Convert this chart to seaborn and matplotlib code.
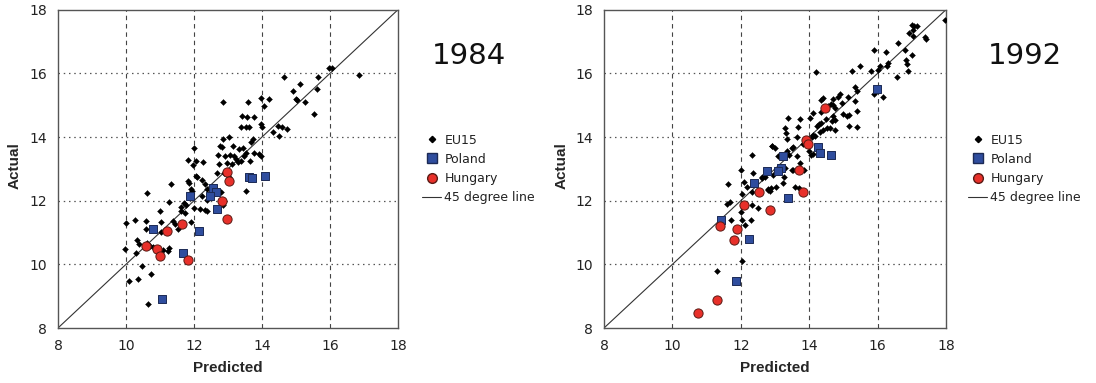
import numpy as np
import pandas as pd
import matplotlib
matplotlib.use("Agg")
import matplotlib.pyplot as plt
import seaborn as sns
from matplotlib.lines import Line2D

# ---------------- data ----------------
eu15_1984_pred = [14.66, 15.12, 14.90, 15.00, 15.04, 15.26, 13.98, 14.21, 12.84, 13.58, 14.06, 13.42, 13.57, 13.76,
                  13.39, 13.53, 13.62, 13.96, 14.00, 14.48, 14.60, 14.75, 14.31, 14.50, 13.73, 13.69, 12.84, 13.02,
                  12.01, 12.77, 12.81, 13.14, 13.32, 13.43, 13.53, 13.48, 13.78, 13.92, 13.65, 13.97, 11.81, 11.96,
                  12.06, 12.27, 12.71, 12.91, 13.06, 13.19, 13.25, 13.37, 12.75, 12.96, 13.11, 13.30, 12.05, 12.09,
                  12.24, 12.33, 12.37, 11.81, 11.85, 11.33, 12.67, 12.88, 13.02, 11.90, 11.95, 13.52, 10.61, 12.25,
                  12.37, 12.79, 12.86, 11.27, 11.72, 11.78, 11.61, 11.63, 11.73, 12.00, 12.18, 12.31, 12.37, 11.01,
                  10.00, 10.27, 10.58, 10.59, 11.03, 11.02, 11.39, 11.53, 11.45, 11.92, 10.32, 10.39, 10.29, 10.63,
                  10.72, 9.96, 10.79, 10.88, 11.10, 11.25, 11.27, 10.48, 10.74, 10.08, 10.36, 10.64, 15.98, 16.06,
                  16.86, 15.66, 15.62, 15.54]
eu15_1984_act = [15.90, 15.66, 15.45, 15.20, 15.15, 15.10, 15.24, 15.21, 15.10, 15.10, 14.98, 14.65, 14.62, 14.62,
                 14.33, 14.30, 14.33, 14.42, 14.33, 14.36, 14.30, 14.25, 14.15, 14.02, 13.94, 13.83, 13.95, 13.99,
                 13.67, 13.73, 13.68, 13.73, 13.62, 13.65, 13.49, 13.39, 13.49, 13.46, 13.26, 13.41, 13.28, 13.13,
                 13.26, 13.21, 13.42, 13.39, 13.44, 13.41, 13.30, 13.25, 13.14, 13.18, 13.16, 13.20, 12.79, 12.73,
                 12.64, 12.51, 12.37, 12.62, 12.56, 12.54, 12.88, 12.86, 12.76, 12.37, 12.29, 12.29, 12.23, 12.15,
                 12.03, 12.27, 11.85, 11.96, 11.94, 11.87, 11.79, 11.67, 11.60, 11.76, 11.74, 11.71, 11.69, 11.69,
                 11.29, 11.38, 11.36, 11.12, 11.34, 11.03, 11.36, 11.12, 11.26, 11.32, 10.77, 10.63, 10.35, 10.66,
                 10.57, 10.47, 10.54, 10.45, 10.45, 10.43, 10.51, 9.96, 9.69, 9.47, 9.55, 8.75, 16.17, 16.17,
                 15.94, 15.88, 15.51, 14.72]
poland_1984_pred = [10.79, 11.88, 12.16, 12.55, 12.65, 12.48, 12.67, 13.63, 13.70, 14.09, 11.69, 11.06]
poland_1984_act = [11.10, 12.16, 11.05, 12.41, 12.27, 12.16, 11.74, 12.76, 12.72, 12.79, 10.35, 8.91]
hungary_1984_pred = [10.58, 10.90, 11.00, 11.20, 11.66, 11.82, 12.81, 12.97, 13.04, 12.97]
hungary_1984_act = [10.59, 10.47, 10.26, 11.04, 11.26, 10.15, 11.99, 12.90, 12.62, 11.42]

eu15_1992_pred = [17.97, 17.00, 17.06, 17.03, 17.14, 16.93, 17.04, 17.39, 17.41, 16.61, 16.80, 17.00, 16.83, 16.87,
                  16.25, 15.89, 16.31, 16.27, 16.07, 16.02, 16.90, 16.58, 15.80, 15.50, 15.24, 14.19, 15.34, 15.41,
                  15.90, 16.17, 15.14, 14.90, 14.83, 14.71, 14.41, 14.36, 14.63, 14.56, 14.69, 14.75, 14.95, 15.34,
                  14.34, 14.12, 15.39, 15.00, 15.12, 15.17, 14.70, 14.75, 14.66, 14.48, 14.34, 14.30, 14.22, 14.02,
                  13.73, 13.39, 14.51, 14.61, 14.75, 15.17, 14.31, 14.39, 14.12, 14.07, 14.17, 15.39, 13.29, 13.32,
                  13.68, 13.63, 13.97, 13.83, 13.54, 13.49, 13.34, 12.90, 13.00, 13.10, 13.36, 13.42, 13.63, 14.00,
                  14.05, 14.12, 13.73, 13.86, 13.49, 13.54, 13.29, 12.95, 12.61, 13.26, 13.22, 13.03, 12.81, 12.85,
                  13.60, 13.71, 12.90, 12.34, 12.01, 12.37, 11.64, 12.09, 12.18, 12.61, 12.71, 12.81, 12.87, 12.32,
                  12.04, 11.59, 11.68, 12.00, 12.32, 12.51, 11.71, 12.04, 12.12, 12.31, 12.03, 11.31]
eu15_1992_act = [17.69, 17.53, 17.48, 17.37, 17.50, 17.27, 17.18, 17.14, 17.08, 16.97, 16.74, 16.58, 16.43, 16.30,
                 16.66, 16.72, 16.32, 16.22, 16.24, 16.11, 16.08, 15.88, 16.08, 16.24, 16.08, 16.04, 15.57, 15.46,
                 15.36, 15.25, 15.25, 15.36, 15.27, 15.19, 15.22, 15.17, 15.04, 14.98, 15.01, 14.91, 15.07, 15.12,
                 14.80, 14.75, 14.83, 14.73, 14.67, 14.70, 14.65, 14.54, 14.49, 14.56, 14.44, 14.42, 14.35, 14.59,
                 14.56, 14.59, 14.28, 14.28, 14.21, 14.35, 14.17, 14.21, 14.07, 14.00, 14.02, 14.33, 14.28, 14.12,
                 14.31, 14.00, 13.89, 13.79, 13.70, 13.65, 13.93, 13.72, 13.65, 13.39, 13.55, 13.44, 13.39, 13.55,
                 13.44, 13.47, 13.18, 12.97, 12.97, 12.95, 13.02, 12.81, 12.76, 12.76, 12.55, 12.44, 12.36, 12.29,
                 12.42, 12.39, 13.73, 13.45, 12.97, 12.86, 12.51, 12.60, 12.44, 12.70, 12.76, 12.34, 12.39, 12.26,
                 12.21, 11.90, 11.97, 11.64, 11.85, 11.76, 11.40, 11.38, 11.23, 11.38, 10.09, 9.80]
poland_1992_pred = [11.41, 12.38, 12.76, 12.25, 11.85, 15.97, 14.27, 14.32, 14.64, 13.22, 13.19, 13.10, 13.39]
poland_1992_act = [11.40, 12.55, 12.92, 10.79, 9.48, 15.52, 13.70, 13.49, 13.42, 13.39, 13.04, 12.92, 12.10]
hungary_1992_pred = [14.46, 13.90, 13.97, 13.70, 13.83, 12.54, 12.84, 11.40, 12.10, 11.89, 11.80, 11.29, 10.75]
hungary_1992_act = [14.91, 13.91, 13.79, 12.97, 12.27, 12.26, 11.70, 11.19, 11.88, 11.10, 10.77, 8.88, 8.48]

years = ["1984", "1992"]
series_names = ["EU15", "Poland", "Hungary"]
line_label = "45 degree line"
axis_ticks = [8, 10, 12, 14, 16, 18]
xlabel = "Predicted"
ylabel = "Actual"

panels = {
    "1984": {"EU15": (eu15_1984_pred, eu15_1984_act),
             "Poland": (poland_1984_pred, poland_1984_act),
             "Hungary": (hungary_1984_pred, hungary_1984_act)},
    "1992": {"EU15": (eu15_1992_pred, eu15_1992_act),
             "Poland": (poland_1992_pred, poland_1992_act),
             "Hungary": (hungary_1992_pred, hungary_1992_act)},
}

# ---------------- styling ----------------
sns.set_style("white")
plt.rcParams["font.family"] = ["DejaVu Sans"]

BLUE, BLUE_EDGE = "#2f4d9e", "#1c2a55"
RED, RED_EDGE = "#e8302a", "#5a1a14"

styles = {
    "EU15": dict(marker="D", s=9, color="black", edgecolor="black", linewidth=0.3, zorder=3),
    "Poland": dict(marker="s", s=40, color=BLUE, edgecolor=BLUE_EDGE, linewidth=0.7, zorder=4),
    "Hungary": dict(marker="o", s=44, color=RED, edgecolor=RED_EDGE, linewidth=0.7, zorder=5),
}

fig = plt.figure(figsize=(10.96, 3.83), dpi=100)
axes_pos = [[0.0529, 0.1436, 0.3102, 0.8310], [0.5511, 0.1436, 0.3120, 0.8310]]
title_pos = [(0.428, 0.855), (0.935, 0.855)]
legend_pos = [(0.3774, 0.674), (0.8756, 0.674)]
ylabel_x = [0.0137, 0.5128]

for i, year in enumerate(years):
    ax = fig.add_axes(axes_pos[i])
    for name in series_names:
        px, py = panels[year][name]
        df = pd.DataFrame({"Predicted": px, "Actual": py})
        sns.scatterplot(data=df, x="Predicted", y="Actual", ax=ax, legend=False, **styles[name])
    ax.plot([axis_ticks[0], axis_ticks[-1]], [axis_ticks[0], axis_ticks[-1]],
            color="#333333", linewidth=0.8, zorder=2)
    ax.set_xlim(axis_ticks[0], axis_ticks[-1])
    ax.set_ylim(axis_ticks[0], axis_ticks[-1])
    ax.set_xticks(axis_ticks)
    ax.set_yticks(axis_ticks)
    for v in axis_ticks[1:-1]:
        ax.axvline(v, color="#444444", linestyle=(0, (4, 3.5)), linewidth=0.8, zorder=1)
        ax.axhline(v, color="#555555", linestyle=(0, (1.2, 3)), linewidth=0.9, zorder=1)
    for sp in ax.spines.values():
        sp.set_color("#555555")
        sp.set_linewidth(1.0)
    ax.tick_params(axis="both", direction="out", length=4, width=0.8, color="#555555",
                   labelsize=10, labelcolor="#222222", pad=4)
    ax.set_xlabel(xlabel, fontsize=11, fontweight="bold", family="Liberation Sans", labelpad=6)
    ax.set_ylabel("")
    fig.text(ylabel_x[i], 0.5666, ylabel, rotation=90, fontsize=11, fontweight="bold",
             family="Liberation Sans", ha="center", va="center")
    fig.text(title_pos[i][0], title_pos[i][1], year, fontsize=21, ha="center", va="center", color="#111111")

    h = [Line2D([], [], marker="D", linestyle="", color="black", markersize=3.2),
         Line2D([], [], marker="s", linestyle="", color=BLUE, markeredgecolor=BLUE_EDGE, markersize=6.5),
         Line2D([], [], marker="o", linestyle="", color=RED, markeredgecolor=RED_EDGE, markersize=7),
         Line2D([], [], color="#333333", linewidth=0.8)]
    fig.legend(h, series_names + [line_label], loc="upper left", bbox_to_anchor=legend_pos[i],
               frameon=False, fontsize=9.0, handlelength=1.5, handletextpad=0.25, labelspacing=0.5,
               borderpad=0.2, labelcolor="#222222")

fig.savefig("out.png", dpi=100)
